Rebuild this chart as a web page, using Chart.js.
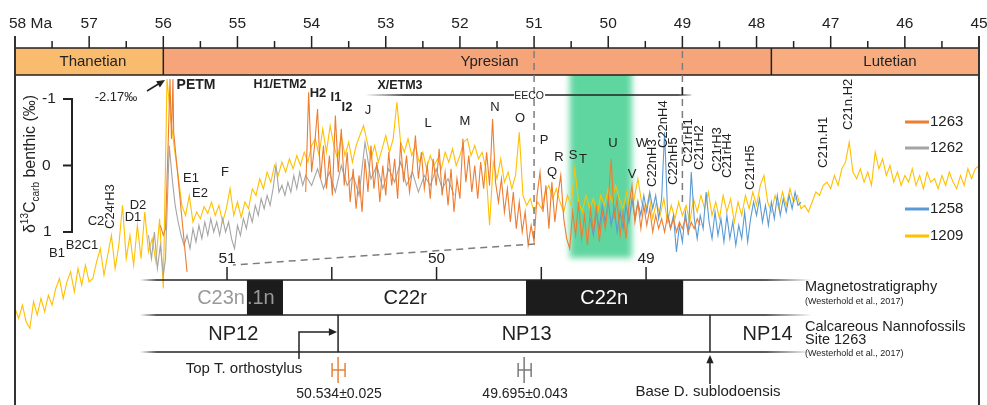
<!DOCTYPE html>
<html>
<head>
<meta charset="utf-8">
<script src="https://cdn.jsdelivr.net/npm/chart.js@4.4.0/dist/chart.umd.min.js"></script>
<style>
  html, body { margin: 0; padding: 0; background: #fff; }
  #wrap { width: 987px; height: 405px; }
</style>
</head>
<body>
<div id="wrap"><canvas id="isotopeChart" width="987" height="405"></canvas></div>
<script>
// ===== Data (ages in Ma, benthic d13C in permil) =====
const tickAges = [58, 57, 56, 55, 54, 53, 52, 51, 50, 49, 48, 47, 46, 45];
const tickLabels = ['58 Ma', '57', '56', '55', '54', '53', '52', '51', '50', '49', '48', '47', '46', '45'];

const stageNames = ['Thanetian', 'Ypresian', 'Lutetian'];
const stageBounds = [58, 56, 47.8, 45];
const stageLabelAges = [56.95, 51.6, 46.2];

const eecoBand = [50.534, 49.695];

// Site 1209, sampled every 0.05 Ma from 58.0 Ma
const start1209 = 58.0, step1209 = 0.05;
const d13c1209 = [
  2.15, 2.30, 2.10, 2.35, 2.45, 2.05, 2.25, 2.00, 2.20, 1.95, 2.10,
  1.85, 1.70, 2.00, 1.75, 1.60, 1.90, 1.55, 1.80, 1.50, 1.75,
  1.70, 1.45, 1.25, 1.65, 1.35, 1.05, 1.55, 1.20, 0.60, 1.40,
  1.05, 1.50, 0.90, 1.40, 0.70, 1.30, 1.10, 1.45, 0.80,
  1.85, -1.30,
  -0.70, -0.25, 0.15, 0.60, 0.75, 0.45, 0.85, 0.70, 0.80, 0.62,
  0.72, 0.55, 0.75, 0.60, 0.85, 0.65, 0.35, 0.75, 0.55,
  0.78, 0.55, 0.65, 0.35, 0.45, 0.20, 0.35, 0.10, 0.25, 0.00,
  0.15, -0.05, 0.10, -0.10, 0.05, -0.15, 0.00, -0.20, -0.05, -0.30,
  -0.40, -0.15, -0.55, -0.20, -0.60, -0.30, -0.10, -0.45, -0.15, -0.35,
  -0.05, -0.30, -0.45, -0.60, -0.35, -0.10, -0.30, -0.05, -0.25, -0.45,
  -0.20, -0.40, -0.95, -0.35, -0.20, -0.40, -0.15, -0.30, -0.05, -0.20,
  0.05, -0.15, 0.00, -0.10, 0.05, -0.20, -0.05, -0.25, 0.00, -0.15,
  -0.35, -0.40, -0.15, -0.30, -0.10, -0.20, 0.05, 0.90, -0.05, 0.20,
  -0.10, 0.25, 0.10, 0.35, 0.15, -0.50, 0.45, 0.60, 0.50, 0.70,
  0.55, 0.65, 0.40, 0.30, 0.50, 0.35, 0.55, 0.70, 0.45, 0.60,
  0.05, 0.55, 0.70, 0.45, 0.65, 0.50, 0.75, 0.45, 0.60, 0.35,
  0.55, 0.30, 0.50, 0.65, 0.40, 0.70, 0.50, 0.20, 0.55, 0.70,
  0.45, 0.80, 0.55, 0.75, 0.50, 0.85, 0.60, 0.80, 0.55, 0.75,
  0.60, 0.85, 0.50, 0.70, 0.45, 0.65, 0.40, 0.75, 0.55, 0.80,
  0.45, 0.70, 0.50, 0.85, 0.55, 0.75, 0.45, 0.65, 0.40, 0.60,
  0.30, 0.15, 0.55, 0.70, 0.45, 0.65, 0.40, 0.60, 0.35, 0.55,
  0.45, 0.65, 0.60, 0.70, 0.55, 0.40, 0.45, 0.30, 0.25, 0.35,
  0.15, 0.30, 0.05, -0.05, -0.35, 0.10, 0.20, 0.05, 0.25, 0.10,
  0.30, -0.20, 0.05, -0.10, 0.15, 0.00, 0.25, 0.10, 0.30, 0.15,
  0.25, 0.05, 0.30, 0.15, 0.35, 0.10, 0.25, 0.20, 0.35, 0.15,
  0.30, 0.10, 0.25, 0.35, 0.15, 0.30, 0.05, 0.20, 0.05, 0.00
];

// Site 1263: PETM part, then the main record every 0.04 Ma from 54.08 Ma
const agePetm1263 = [56.04, 56.00, 55.97, 55.93, 55.91, 55.89, 55.87, 55.86, 55.68];
const d13cPetm1263 = [0.90, 1.05, 0.95, -0.50, -1.30, -0.40, -1.30, -0.50, 1.60];
const start1263 = 54.08, step1263 = 0.04;
const d13c1263 = [
  0.40, -1.10, 0.10, -0.30, -0.85, 0.20, -0.30, 0.35, -0.15, 0.45,
  -0.75, 0.10, -0.55, 0.30, -0.20, 0.55, 0.05, 0.65, 0.15, 0.70,
  -0.10, 0.40, -0.30, 0.35, -0.05, 0.55, 0.00, 0.45, -0.20, 0.30,
  -0.10, 0.50, -0.35, 0.25, -0.15, 0.40, 0.05, -0.45, 0.20, -0.20,
  0.35, 0.00, 0.50, -0.10, 0.30, -0.25, 0.45, 0.10, 0.60, 0.05,
  0.70, 0.20, 0.50, -0.40, 0.25, -0.15, 0.40, 0.00, 0.50, -0.05,
  0.35, -0.20, 0.30, -0.70, 0.25, 0.55, 0.20, 0.70, 0.35, 0.85,
  0.40, 0.95, 0.55, 1.00, 0.70, 1.20, 0.90, 1.15, 0.45, 0.10,
  0.70, 0.30, 0.95, 0.25, 0.85, 0.45, 0.15, 0.80, 1.10, 1.25,
  0.70, 1.05, 0.55, 1.10, 0.75, 1.20, 0.65, 1.00, 0.60, 1.15,
  0.70, 0.95, 0.55, -0.10, 0.80, 0.50, 1.05, 0.70, 1.10, 0.60,
  0.30, 0.85, 0.55, 0.95, 0.60, 0.90, 0.65, 1.00, 0.75, 0.95,
  0.80, 1.00, 0.75, 0.95, 0.80, 1.00, 0.85, 0.95, 0.80, 1.00,
  0.85, 0.95, 0.80, 0.90
];

// Site 1262
const agePetm1262 = [56.20, 56.16, 56.12, 56.08, 56.04, 56.00, 55.97, 55.92, 55.88, 55.84, 55.80, 55.76];
const d13cPetm1262 = [1.05, 1.40, 1.00, 1.55, 1.20, 1.65, 1.40, -0.30, 0.20, 0.60, 0.85, 1.05];
const start1262 = 55.72, step1262 = 0.04;
const d13c1262 = [
  1.20, 1.05, 1.25, 0.95, 1.15, 0.90, 1.10, 0.85, 1.05, 0.80,
  1.00, 0.85, 1.05, 0.80, 1.00, 0.85, 1.10, 1.25, 0.90, 1.05,
  0.80, 0.95, 0.70, 0.85, 0.60, 0.75, 0.50, 0.65, 0.45, 0.60,
  0.35, 0.00, 0.40, 0.30, 0.45, 0.25, 0.40, 0.15, 0.35, 0.10,
  0.30, 0.15
];
const startLate1262 = 54.00, stepLate1262 = 0.08;
const d13cLate1262 = [
  0.30, 0.05, 0.35, 0.10, 0.40, 0.00, 0.30, 0.15, 0.45, -0.35,
  0.20, 0.00, 0.35, 0.05, 0.25, -0.05, 0.30, 0.10, 0.40, 0.15,
  0.30, 0.05, 0.35, 0.20, 0.45
];

// Site 1258, every 0.04 Ma from 50.24 Ma
const start1258 = 50.24, step1258 = 0.04;
const d13c1258 = [
  0.80, 1.05, 0.70, 0.95, 0.60, 0.85, 0.55, 0.90, 0.65, 1.00,
  0.70, 0.95, 0.60, 0.85, 0.50, 0.80, 0.55, 0.75, 0.45, 0.70,
  0.40, 0.65, 0.45, 0.80, 0.50, -0.50, 0.70, 0.95, 0.75, 1.30,
  0.90, 1.15, 0.70, 1.05, 0.10, 0.80, 1.10, 0.75, 0.95, 0.40,
  0.85, 1.10, 0.70, 1.05, 0.80, 1.15, 0.75, 1.10, 0.85, 1.20,
  0.90, 1.10, 0.70, 1.15, 0.80, 0.55, 0.75, 0.50, 0.85, 0.60,
  0.90, 0.55, 0.80, 0.45, 0.75, 0.50, 0.70, 0.45, 0.65, 0.40,
  0.60, 0.55
];

// lower (expanded) age axis, magnetostratigraphy and nannofossil zones
const lowerTicks = [51, 50.5, 50, 49.5, 49];
const lowerTickLabels = ['51', '', '50', '', '49'];
const chronBounds = [51.573, 50.905, 50.733, 49.573, 48.823, 48.279];
const nannoNames = ['NP12', 'NP13', 'NP14'];
const nannoBounds = [51.573, 50.47, 48.695, 48.279];
const nannoLabelAges = [50.97, 49.57, 48.42];
const ashAges = [50.47, 49.582];
const ashLabels = ['50.534\u00b10.025', '49.695\u00b10.043'];

const siteNames = ['1263', '1262', '1258', '1209'];

// ===== Styles =====
const ink = '#222';
const FONT = '"Liberation Sans", Arial, Helvetica, sans-serif';
const siteColors = { '1263': '#ED7D31', '1262': '#A5A5A5', '1258': '#5B9BD5', '1209': '#FFC000' };
const stageFill = ['#F9BB6E', '#F6A57A', '#F7AD80'];
const legendY = [122, 148, 209, 236];

function font(size, bold) {
  return (bold ? 'bold ' : '') + size + 'px ' + FONT;
}

function sampled(start, step, values) {
  return values.map((v, i) => ({ x: +(start - i * step).toFixed(3), y: v }));
}

function paired(ages, values) {
  return ages.map((a, i) => ({ x: a, y: values[i] }));
}

function seg(ctx, x0, y0, x1, y1) {
  ctx.beginPath();
  ctx.moveTo(x0, y0);
  ctx.lineTo(x1, y1);
  ctx.stroke();
}

function arrowHead(ctx, xFrom, yFrom, xTo, yTo, size) {
  const a = Math.atan2(yTo - yFrom, xTo - xFrom);
  ctx.beginPath();
  ctx.moveTo(xTo, yTo);
  ctx.lineTo(xTo - size * Math.cos(a - 0.42), yTo - size * Math.sin(a - 0.42));
  ctx.lineTo(xTo - size * Math.cos(a + 0.42), yTo - size * Math.sin(a + 0.42));
  ctx.closePath();
  ctx.fill();
}

function fadeLine(ctx, x0, x1, yy) {
  const g = ctx.createLinearGradient(x0, 0, x1, 0);
  g.addColorStop(0, 'rgba(34,34,34,0)');
  g.addColorStop(0.025, 'rgba(34,34,34,1)');
  g.addColorStop(0.93, 'rgba(34,34,34,1)');
  g.addColorStop(1, 'rgba(34,34,34,0)');
  ctx.strokeStyle = g;
  seg(ctx, x0, yy, x1, yy);
}

// event labels [text, x, y]
const eventLabels = [
  ['B1', 57, 253], ['B2C1', 82, 245], ['C2', 96, 221], ['D1', 133, 217], ['D2', 138, 205],
  ['E1', 191, 178], ['E2', 200, 193], ['F', 225, 172], ['J', 368, 110],
  ['L', 428, 123], ['M', 465, 121], ['N', 495, 107], ['O', 520, 118],
  ['P', 544, 140], ['Q', 552, 172], ['R', 559, 157], ['S', 573, 155], ['T', 583, 159],
  ['U', 613, 143], ['V', 632, 174], ['W', 642, 143], ['-2.17\u2030', 116, 97]
];
const boldLabels = [
  ['PETM', 196, 85, 14], ['H1/ETM2', 280, 85, 12.5], ['H2', 318, 93, 13],
  ['I1', 336, 97, 13], ['I2', 347, 107, 13], ['X/ETM3', 400, 86, 12.5]
];
// rotated labels [text, x, bottom y]
const sideLabels = [
  ['C24rH3', 110, 229], ['C22nH3', 652, 187], ['C22nH4', 663, 148], ['C22nH5', 673, 185],
  ['C21rH1', 688, 163], ['C21rH2', 699, 170], ['C21rH3', 717, 172], ['C21rH4', 727, 178],
  ['C21rH5', 750, 190], ['C21n.H1', 823, 168], ['C21n.H2', 848, 130]
];

const figurePlugin = {
  id: 'figure',
  beforeDatasetsDraw(chart) {
    const { ctx, scales: { x } } = chart;
    const g0 = x.getPixelForValue(eecoBand[0]);
    const g1 = x.getPixelForValue(eecoBand[1]);
    ctx.save();
    ctx.filter = 'blur(3px)';
    ctx.fillStyle = '#5FD6A0';
    ctx.fillRect(g0 + 1, 68, g1 - g0, 190);
    ctx.restore();
  },
  afterDatasetsDraw(chart) {
    const { ctx, scales } = chart;
    const X = a => scales.x.getPixelForValue(a);
    const X2 = a => scales.x2.getPixelForValue(a);
    const Y = v => scales.y.getPixelForValue(v);
    ctx.save();
    ctx.lineCap = 'butt';

    // ===== Stage bar =====
    const sTop = 48, sBot = 75;
    stageNames.forEach((n, i) => {
      const a = X(stageBounds[i]), b = X(stageBounds[i + 1]);
      ctx.fillStyle = stageFill[i];
      ctx.fillRect(a, sTop, b - a, sBot - sTop);
    });
    ctx.fillStyle = ink;
    ctx.font = font(15);
    ctx.textAlign = 'center';
    ctx.textBaseline = 'middle';
    stageNames.forEach((n, i) => ctx.fillText(n, X(stageLabelAges[i]), 62));
    ctx.strokeStyle = ink;
    ctx.lineWidth = 1.5;
    ctx.strokeRect(X(58), sTop, X(45) - X(58), sBot - sTop);
    stageBounds.slice(1, -1).forEach(b => seg(ctx, X(b), sTop, X(b), sBot));

    // ===== Top age axis =====
    ctx.lineWidth = 1.5;
    tickAges.forEach((a, i) => {
      seg(ctx, X(a), 36, X(a), sTop);
      if (i < tickAges.length - 1) seg(ctx, X(a - 0.5), 41, X(a - 0.5), sTop);
    });
    ctx.font = font(15.5);
    tickAges.forEach((a, i) => {
      if (i === 0) {
        ctx.textAlign = 'left';
        ctx.fillText(tickLabels[i], X(a) - 6, 24);
      } else {
        ctx.textAlign = 'center';
        ctx.fillText(tickLabels[i], X(a), 24);
      }
    });

    // ===== Dashed guides at 51 and 49 Ma =====
    ctx.save();
    ctx.setLineDash([7, 5]);
    ctx.strokeStyle = '#7d7d7d';
    ctx.lineWidth = 1.5;
    ctx.beginPath();
    ctx.moveTo(X(51), 51);
    ctx.lineTo(X(51), 244);
    ctx.lineTo(X2(51) + 6, 265);
    ctx.stroke();
    ctx.beginPath();
    ctx.moveTo(X(49), 51);
    ctx.lineTo(X(49), 206);
    ctx.stroke();
    ctx.restore();

    // ===== EECO line =====
    const eL = 365, eR = X(49) + 9, eY = 95;
    const eg = ctx.createLinearGradient(eL, 0, eR, 0);
    eg.addColorStop(0, 'rgba(34,34,34,0)');
    eg.addColorStop(0.12, 'rgba(34,34,34,1)');
    eg.addColorStop(0.96, 'rgba(34,34,34,1)');
    eg.addColorStop(1, 'rgba(34,34,34,0.2)');
    ctx.strokeStyle = eg;
    ctx.lineWidth = 1.5;
    seg(ctx, eL, eY, X(51) - 20, eY);
    seg(ctx, X(51) + 11, eY, eR, eY);
    ctx.strokeStyle = ink;
    seg(ctx, X(49), eY - 8, X(49), eY);
    ctx.fillStyle = ink;
    ctx.font = font(10.5);
    ctx.textAlign = 'center';
    ctx.fillText('EECO', X(51) - 5, eY + 1);

    // ===== d13C scale bar =====
    const sbX = 72;
    ctx.strokeStyle = ink;
    ctx.lineWidth = 2;
    seg(ctx, sbX, Y(-1), sbX, Y(1));
    [-1, 0, 1].forEach(v => seg(ctx, sbX - 9, Y(v), sbX + 1, Y(v)));
    ctx.font = font(15.5);
    ctx.textAlign = 'left';
    ctx.fillText('-1', 42, Y(-1));
    ctx.fillText('0', 42, Y(0));
    ctx.fillText('1', 43, Y(1));

    // axis title, rotated
    ctx.save();
    ctx.translate(31, 164);
    ctx.rotate(-Math.PI / 2);
    const parts = [['\u03b4', 16, 0], ['13', 10, -6], ['C', 16, 0], ['carb', 10, 5], [' benthic (\u2030)', 16, 0]];
    let w = 0;
    parts.forEach(p => { ctx.font = font(p[1]); w += ctx.measureText(p[0]).width; });
    let cx = -w / 2;
    ctx.textAlign = 'left';
    parts.forEach(p => {
      ctx.font = font(p[1]);
      ctx.fillText(p[0], cx, p[2]);
      cx += ctx.measureText(p[0]).width;
    });
    ctx.restore();

    // ===== Event labels =====
    ctx.fillStyle = ink;
    ctx.textAlign = 'center';
    ctx.font = font(13);
    eventLabels.forEach(l => ctx.fillText(l[0], l[1], l[2]));
    boldLabels.forEach(l => { ctx.font = font(l[3], true); ctx.fillText(l[0], l[1], l[2]); });
    ctx.font = font(13);
    ctx.textAlign = 'left';
    sideLabels.forEach(l => {
      ctx.save();
      ctx.translate(l[1], l[2]);
      ctx.rotate(-Math.PI / 2);
      ctx.fillText(l[0], 0, 0);
      ctx.restore();
    });

    // arrow to the PETM peak
    ctx.strokeStyle = ink;
    ctx.lineWidth = 1.5;
    seg(ctx, 147, 91, 160, 83);
    arrowHead(ctx, 147, 91, 165, 80, 9);

    // ===== Legend =====
    ctx.lineWidth = 3;
    ctx.font = font(15);
    ctx.textAlign = 'left';
    siteNames.forEach((s, i) => {
      ctx.strokeStyle = siteColors[s];
      seg(ctx, 905, legendY[i], 929, legendY[i]);
      ctx.fillStyle = ink;
      ctx.fillText(s, 930, legendY[i]);
    });

    // ===== Lower axis, magnetostratigraphy and nannofossil zones =====
    const mTop = 280, mBot = 315, nBot = 352;
    ctx.fillStyle = '#1c1c1c';
    [[1, 2], [3, 4]].forEach(p => {
      const a = X2(chronBounds[p[0]]), b = X2(chronBounds[p[1]]);
      ctx.fillRect(a, mTop, b - a, mBot - mTop);
    });
    ctx.lineWidth = 1.5;
    [mTop, mBot, nBot].forEach(yy => fadeLine(ctx, 140, 812, yy));
    ctx.strokeStyle = ink;
    lowerTicks.forEach(t => seg(ctx, X2(t), 267, X2(t), mTop));
    ctx.fillStyle = ink;
    ctx.font = font(15.5);
    ctx.textAlign = 'center';
    lowerTicks.forEach((t, i) => { if (lowerTickLabels[i]) ctx.fillText(lowerTickLabels[i], X2(t), 259); });
    nannoBounds.slice(1, -1).forEach(b => seg(ctx, X2(b), mBot, X2(b), nBot));

    ctx.font = font(20);
    ctx.fillStyle = '#9a9a9a';
    ctx.textAlign = 'right';
    ctx.fillText('C23n', X2(chronBounds[1]) - 2, 298);
    ctx.textAlign = 'left';
    ctx.fillText('.1n', X2(chronBounds[1]), 298);
    ctx.textAlign = 'center';
    ctx.fillStyle = ink;
    ctx.fillText('C22r', X2(50.15), 298);
    ctx.fillStyle = '#fff';
    ctx.fillText('C22n', X2(49.2), 298);
    ctx.fillStyle = ink;
    nannoNames.forEach((n, i) => ctx.fillText(n, X2(nannoLabelAges[i]), 334));

    // right-hand captions
    ctx.textAlign = 'left';
    ctx.font = font(14.5);
    ctx.fillText('Magnetostratigraphy', 805, 287);
    ctx.fillText('Calcareous Nannofossils', 805, 327);
    ctx.fillText('Site 1263', 805, 340);
    ctx.font = font(9);
    ctx.fillText('(Westerhold et al., 2017)', 805, 302);
    ctx.fillText('(Westerhold et al., 2017)', 805, 354);

    // Top T. orthostylus
    const bNP = X2(nannoBounds[1]);
    ctx.strokeStyle = ink;
    ctx.lineWidth = 1.5;
    ctx.beginPath();
    ctx.moveTo(299, 359);
    ctx.lineTo(299, 332);
    ctx.lineTo(bNP - 6, 332);
    ctx.stroke();
    arrowHead(ctx, 299, 332, bNP - 1, 332, 9);
    ctx.font = font(15);
    ctx.textAlign = 'center';
    ctx.fillText('Top T. orthostylus', 244, 369);

    // Base D. sublodoensis
    const bNP14 = X2(nannoBounds[2]);
    seg(ctx, bNP14, 384, bNP14, 362);
    arrowHead(ctx, bNP14, 384, bNP14, 355, 9);
    ctx.fillText('Base D. sublodoensis', bNP14 - 2, 392);

    // dated ash layers
    const ashColors = ['#E8803A', '#7a7a7a'];
    ashAges.forEach((a, i) => {
      const ax = X2(a);
      ctx.strokeStyle = ashColors[i];
      ctx.lineWidth = 1.5;
      seg(ctx, ax, 357, ax, 383);
      seg(ctx, ax - 6, 370, ax + 7, 370);
      seg(ctx, ax - 6, 363, ax - 6, 377);
      seg(ctx, ax + 7, 363, ax + 7, 377);
      ctx.fillStyle = ink;
      ctx.font = font(14);
      ctx.fillText(ashLabels[i], ax + 1, 394);
    });

    // ===== Frame =====
    ctx.strokeStyle = '#333';
    ctx.lineWidth = 2;
    seg(ctx, X(58), 36, X(58), 405);
    seg(ctx, X(45), 36, X(45), 405);

    ctx.restore();
  }
};

// ===== Chart.js Setup =====
document.addEventListener('DOMContentLoaded', function () {
  const canvas = document.getElementById('isotopeChart');
  const ctx = canvas.getContext('2d');

  const data1263 = paired(agePetm1263, d13cPetm1263)
    .concat([{ x: 55.0, y: null }])
    .concat(sampled(start1263, step1263, d13c1263));
  const data1262 = paired(agePetm1262, d13cPetm1262)
    .concat(sampled(start1262, step1262, d13c1262))
    .concat(sampled(startLate1262, stepLate1262, d13cLate1262));
  const data1258 = sampled(start1258, step1258, d13c1258);
  const data1209 = sampled(start1209, step1209, d13c1209);

  const lineSet = (label, pts, order) => ({
    label: label,
    data: pts,
    borderColor: siteColors[label],
    borderWidth: 1.1,
    pointRadius: 0,
    tension: 0,
    spanGaps: false,
    order: order
  });

  new Chart(ctx, {
    type: 'line',
    data: {
      datasets: [
        lineSet('1263', data1263, 1),
        lineSet('1258', data1258, 2),
        lineSet('1262', data1262, 3),
        lineSet('1209', data1209, 4)
      ]
    },
    options: {
      responsive: false,
      animation: false,
      devicePixelRatio: 1,
      layout: { padding: { left: 15, right: 8, top: 37, bottom: 0 } },
      plugins: { legend: { display: false }, tooltip: { enabled: false } },
      scales: {
        x: { type: 'linear', min: 45, max: 58, reverse: true, display: false },
        x2: { type: 'linear', axis: 'x', min: 47.411, max: 52.012, reverse: true, display: false },
        y: { type: 'linear', min: -1.932, max: 3.602, reverse: true, display: false }
      }
    },
    plugins: [figurePlugin]
  });
});
</script>
</body>
</html>
